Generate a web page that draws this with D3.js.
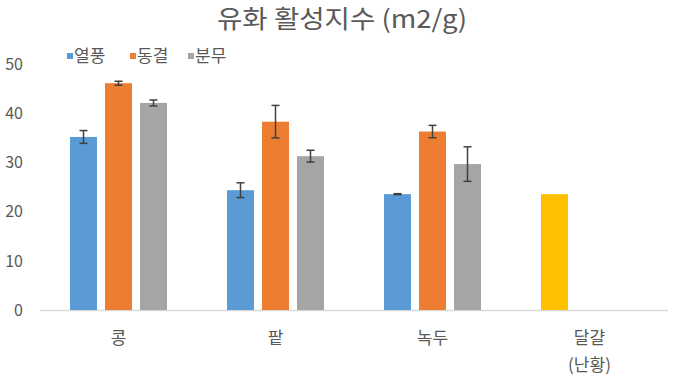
<!DOCTYPE html>
<html><head><meta charset="utf-8">
<script src="https://cdn.jsdelivr.net/npm/d3@7"></script>
<style>body{margin:0;background:#fff;} text{font-family:"Noto Sans CJK KR","Noto Sans",sans-serif;fill:#595959;}</style>
</head><body>
<svg id="c" width="680" height="383"></svg>
<script>
const categories = ["콩", "팥", "녹두", "달걀\n(난황)"];
const seriesNames = ["열풍", "동결", "분무"];
const seriesColors = ["#5B9BD5", "#ED7D31", "#A5A5A5"];
const hotAir = [35.1, 24.3, 23.5, 23.5];
const freeze = [46.0, 38.2, 36.2, null];
const spray = [42.0, 31.2, 29.6, null];
const hotAirErr = [1.3, 1.5, 0.1, null];
const freezeErr = [0.4, 3.3, 1.25, null];
const sprayErr = [0.6, 1.2, 3.5, null];
const pointColorOverride = [null, null, null, "#FFC000"];
const yTicks = [0, 10, 20, 30, 40, 50];

const values = [hotAir, freeze, spray];
const errs = [hotAirErr, freezeErr, sprayErr];

const svg = d3.select("#c");
const pLeft = 40, pRight = 668, pTop = 63.5, pBottom = 310;

const x = d3.scaleBand().domain(categories).range([pLeft, pRight]).paddingInner(0).paddingOuter(0);
const xi = d3.scaleBand().domain(seriesNames).range([0, x.bandwidth()]).paddingInner(0.229).paddingOuter(0.857);
const y = d3.scaleLinear().domain([0, 50]).range([pBottom, pTop]);

// title
svg.append("text").attr("x", 342).attr("y", 28).attr("text-anchor", "middle")
  .attr("textLength", 250).attr("lengthAdjust", "spacingAndGlyphs")
  .style("font-size", "25px").text("유화 활성지수 (m2/g)");

// y labels
svg.selectAll(".yl").data(yTicks).enter().append("text")
  .attr("x", 23).attr("y", d => y(d) + 6).attr("text-anchor", "end")
  .style("font-size", "16px").text(d => d);

// baseline
svg.append("line").attr("x1", pLeft).attr("x2", pRight).attr("y1", y(0)+0.5).attr("y2", y(0)+0.5)
  .attr("stroke", "#D9D9D9").attr("stroke-width", 1.5);

// bars
const bars = [];
seriesNames.forEach((s, si) => {
  categories.forEach((c, ci) => {
    const v = values[si][ci];
    if (v == null) return;
    bars.push({s, si, c, ci, v, e: errs[si][ci],
      color: (si === 0 && pointColorOverride[ci]) ? pointColorOverride[ci] : seriesColors[si]});
  });
});
svg.selectAll(".bar").data(bars).enter().append("rect")
  .attr("x", d => x(d.c) + xi(d.s)).attr("width", xi.bandwidth())
  .attr("y", d => y(d.v)).attr("height", d => y(0) - y(d.v))
  .attr("fill", d => d.color);

// error bars
const eb = bars.filter(d => d.e != null);
const g = svg.append("g").attr("stroke", "#404040").attr("stroke-width", 1.5);
eb.forEach(d => {
  const cx = x(d.c) + xi(d.s) + xi.bandwidth()/2;
  g.append("line").attr("x1", cx).attr("x2", cx).attr("y1", y(d.v + d.e)).attr("y2", y(d.v - d.e));
  g.append("line").attr("x1", cx-4).attr("x2", cx+4).attr("y1", y(d.v + d.e)).attr("y2", y(d.v + d.e));
  g.append("line").attr("x1", cx-4).attr("x2", cx+4).attr("y1", y(d.v - d.e)).attr("y2", y(d.v - d.e));
});

// category labels
categories.forEach(c => {
  const lines = c.split("\n");
  lines.forEach((l, i) => {
    svg.append("text").attr("x", x(c) + x.bandwidth()/2).attr("y", 344 + i*27)
      .attr("text-anchor", "middle").style("font-size", "17px").text(l);
  });
});

// legend
const legX = [67, 130, 188];
seriesNames.forEach((s, i) => {
  svg.append("rect").attr("x", legX[i]).attr("y", 53).attr("width", 6).attr("height", 6).attr("fill", seriesColors[i]);
  svg.append("text").attr("x", legX[i] + 7).attr("y", 62).style("font-size", "17px").text(s);
});
</script>
</body></html>
